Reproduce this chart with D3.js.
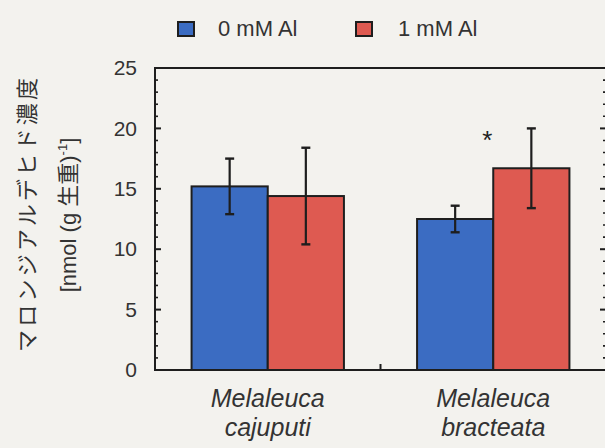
<!DOCTYPE html>
<html><head><meta charset="utf-8">
<script src="https://cdn.jsdelivr.net/npm/d3@7"></script>
<style>html,body{margin:0;padding:0;background:#f3f2ee;}svg{display:block;}</style>
</head><body>
<script>
const categories = ["Melaleuca cajuputi", "Melaleuca bracteata"];
const seriesNames = ["0 mM Al", "1 mM Al"];
const means0 = [15.2, 12.5];
const errs0 = [2.3, 1.1];
const means1 = [14.4, 16.7];
const errs1 = [4.0, 3.3];
const colors = ["#3b6cc2", "#de5a51"];
const yTicks = [0, 5, 10, 15, 20, 25];
const significance = ["", "*"];

const W = 605, H = 448;
const L = 155, R = 606, T = 68, B = 370;
const svg = d3.select("body").append("svg").attr("width", W).attr("height", H);
svg.append("rect").attr("width", W).attr("height", H).attr("fill", "#f3f2ee");

const y = d3.scaleLinear().domain([0, 25]).range([B, T]);
const x = d3.scaleBand().domain(categories).range([L, R]).paddingInner(0).paddingOuter(0);
const inner = d3.scaleBand().domain(seriesNames).range([0, x.bandwidth()]).paddingOuter(0.48).paddingInner(0);

const data = [];
categories.forEach((c, i) => {
  data.push({c, s: seriesNames[0], v: means0[i], e: errs0[i], col: colors[0]});
  data.push({c, s: seriesNames[1], v: means1[i], e: errs1[i], col: colors[1]});
});

const g = svg.append("g");
g.selectAll("rect.bar").data(data).join("rect").attr("class", "bar")
  .attr("x", d => x(d.c) + inner(d.s))
  .attr("y", d => y(d.v))
  .attr("width", inner.bandwidth())
  .attr("height", d => y(0) - y(d.v))
  .attr("fill", d => d.col)
  .attr("stroke", "#1e1e1e").attr("stroke-width", 2);

// error bars
const eb = g.selectAll("g.eb").data(data).join("g").attr("class", "eb");
eb.append("line")
  .attr("x1", d => x(d.c) + inner(d.s) + inner.bandwidth() / 2)
  .attr("x2", d => x(d.c) + inner(d.s) + inner.bandwidth() / 2)
  .attr("y1", d => y(d.v - d.e)).attr("y2", d => y(d.v + d.e))
  .attr("stroke", "#1e1e1e").attr("stroke-width", 2.2);
[1, -1].forEach(sg => {
  eb.append("line")
    .attr("x1", d => x(d.c) + inner(d.s) + inner.bandwidth() / 2 - 4.5)
    .attr("x2", d => x(d.c) + inner(d.s) + inner.bandwidth() / 2 + 4.5)
    .attr("y1", d => y(d.v + sg * d.e)).attr("y2", d => y(d.v + sg * d.e))
    .attr("stroke", "#1e1e1e").attr("stroke-width", 2.4);
});

// significance
categories.forEach((c, i) => {
  if (significance[i]) {
    svg.append("text").attr("x", x(c) + inner(seriesNames[0]) + inner.bandwidth() - 6)
      .attr("y", y(means1[i] + errs1[i]) + 21)
      .attr("text-anchor", "middle").attr("font-family", "Liberation Sans, Arial, sans-serif")
      .attr("font-size", 26).attr("fill", "#222").text(significance[i]);
  }
});

// frame
svg.append("rect").attr("x", L).attr("y", T).attr("width", R - L).attr("height", B - T)
  .attr("fill", "none").attr("stroke", "#1e1e1e").attr("stroke-width", 2);

// ticks
const minor = d3.range(0, 25.01, 1);
minor.forEach(v => {
  const major = v % 5 === 0;
  const len = major ? 6 : 3;
  svg.append("line").attr("x1", L).attr("x2", L + len).attr("y1", y(v)).attr("y2", y(v))
    .attr("stroke", "#1e1e1e").attr("stroke-width", major ? 2 : 1.6);
  svg.append("line").attr("x1", R).attr("x2", R - len).attr("y1", y(v)).attr("y2", y(v))
    .attr("stroke", "#1e1e1e").attr("stroke-width", major ? 2 : 1.6);
});
// x center tick
svg.append("line").attr("x1", x(categories[1])).attr("x2", x(categories[1]))
  .attr("y1", B).attr("y2", B - 6).attr("stroke", "#1e1e1e").attr("stroke-width", 2);

// y tick labels
const yAxis = d3.axisLeft(y).tickValues(yTicks).tickSize(0).tickPadding(18);
const ya = svg.append("g").attr("transform", `translate(${L},0)`).call(yAxis);
ya.select(".domain").remove();
ya.selectAll("text").attr("font-family", "Liberation Sans, Arial, sans-serif")
  .attr("font-size", 21).attr("fill", "#333");

// x labels
categories.forEach(c => {
  const parts = c.split(" ");
  const t = svg.append("text").attr("text-anchor", "middle")
    .attr("font-family", "Liberation Sans, Arial, sans-serif").attr("font-style", "italic")
    .attr("font-size", 25).attr("fill", "#333");
  parts.forEach((p, k) => {
    t.append("tspan").attr("x", x(c) + x.bandwidth() / 2).attr("y", 407 + k * 29).text(p);
  });
});

// y label
const yl1 = "マロンジアルデヒド濃度";
svg.append("text").attr("transform", "translate(35,215) rotate(-90)")
  .attr("text-anchor", "middle").attr("font-family", "Noto Sans CJK JP, sans-serif")
  .attr("font-size", 22).attr("fill", "#333")
  .attr("textLength", 274).attr("lengthAdjust", "spacing").text(yl1);
const yl2 = svg.append("text").attr("transform", "translate(76,215) rotate(-90)")
  .attr("text-anchor", "middle").attr("font-family", "Liberation Sans, 'Noto Sans CJK JP', sans-serif")
  .attr("font-size", 22).attr("fill", "#333");
yl2.append("tspan").text("[nmol (g ");
yl2.append("tspan").attr("font-family", "Noto Sans CJK JP, sans-serif").text("生重");
yl2.append("tspan").text(")");
yl2.append("tspan").attr("font-size", 13).attr("dy", -9).text("-1");
yl2.append("tspan").attr("dy", 9).text("]");

// legend
const legX = [178, 356], txtX = [218, 398];
seriesNames.forEach((s, i) => {
  svg.append("rect").attr("x", legX[i]).attr("y", 22).attr("width", 16).attr("height", 14)
    .attr("fill", colors[i]).attr("stroke", "#1e1e1e").attr("stroke-width", 2);
  svg.append("text").attr("x", txtX[i]).attr("y", 36)
    .attr("font-family", "Liberation Sans, Arial, sans-serif").attr("font-size", 22)
    .attr("fill", "#333").text(s);
});
</script>
</body></html>
